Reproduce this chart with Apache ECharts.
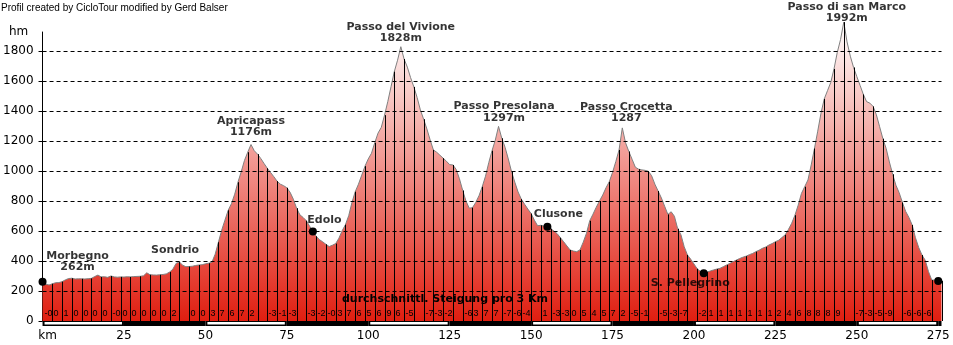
<!DOCTYPE html>
<html>
<head>
<meta charset="utf-8">
<title>Höhenprofil Morbegno – Passo di san Marco</title>
<script src="https://cdn.jsdelivr.net/npm/echarts@6/dist/echarts.min.js"></script>
<style>
  html, body { margin: 0; padding: 0; background: #fff; }
  #chart { width: 953px; height: 345px; }
</style>
</head>
<body>
<div id="chart"></div>
<script>
// Elevation (m) sampled once per kilometre, km 0 .. 276
const profileElev = [
  262, 245, 240, 248, 255, 256, 262, 274, 283, 285,
  280, 281, 281, 280, 282, 284, 296, 306, 294, 295,
  291, 300, 294, 292, 294, 293, 295, 294, 296, 297,
  298, 301, 321, 308, 307, 306, 308, 310, 314, 326,
  345, 384, 394, 372, 362, 363, 365, 370, 373, 375,
  381, 385, 392, 445, 525, 605, 672, 738, 782, 845,
  925, 995, 1070, 1125, 1176, 1135, 1112, 1083, 1050, 1018,
  990, 962, 932, 912, 902, 888, 858, 812, 752, 708,
  690, 668, 632, 597, 565, 542, 528, 511, 496, 505,
  516, 552, 602, 642, 702, 790, 862, 912, 972, 1032,
  1080, 1118, 1188, 1252, 1290, 1372, 1462, 1562, 1662, 1738,
  1828, 1746, 1692, 1622, 1560, 1490, 1407, 1345, 1280, 1207,
  1140, 1125, 1105, 1085, 1065, 1042, 1040, 1010, 948, 870,
  800, 752, 755, 790, 835, 895, 965, 1055, 1135, 1205,
  1297, 1218, 1158, 1080, 995, 925, 860, 812, 778, 746,
  716, 672, 635, 638, 632, 628, 615, 600, 582, 555,
  528, 500, 473, 466, 462, 474, 525, 585, 668, 712,
  758, 800, 840, 888, 928, 990, 1062, 1140, 1287, 1188,
  1130, 1078, 1025, 1012, 1007, 1004, 998, 968, 912, 866,
  820, 765, 710, 728, 698, 615, 575, 495, 440, 412,
  380, 348, 330, 318, 326, 333, 340, 346, 351, 362,
  373, 384, 395, 406, 416, 425, 432, 442, 450, 462,
  472, 484, 493, 506, 516, 528, 538, 556, 574, 610,
  651, 705, 772, 850, 895, 940, 1040, 1150, 1265, 1385,
  1480, 1535, 1590, 1680, 1790, 1875, 1992, 1860, 1765, 1690,
  1629, 1570, 1510, 1462, 1452, 1430, 1375, 1295, 1215, 1150,
  1060, 978, 905, 855, 790, 730, 690, 640, 555, 490,
  440, 405, 330, 273, 273, 267, 268
];

// Average gradient (%) for each 3 km section, "" where none is printed
const gradeLabels = [
  '-0', '0', '1', '0', '0', '0', '0', '-0', '0', '0',
  '0', '0', '0', '2', '', '0', '0', '3', '7', '6',
  '7', '2', '', '-3', '-1', '-3', '', '-3', '-2', '-0',
  '3', '7', '6', '5', '6', '9', '6', '-5', '', '-7',
  '-3', '-2', '', '-6', '3', '7', '7', '-7', '-6', '-4',
  '', '1', '-3', '-3', '0', '5', '4', '5', '7', '2',
  '-5', '-1', '', '-5', '-3', '-7', '', '-2', '1', '1',
  '1', '1', '1', '1', '1', '2', '4', '6', '8', '8',
  '8', '9', '', '-7', '-3', '-5', '-9', '', '-6', '-6',
  '-6', ''
];

const kmTicks = [0, 25, 50, 75, 100, 125, 150, 175, 200, 225, 250, 275];
const elevTicks = [0, 200, 400, 600, 800, 1000, 1200, 1400, 1600, 1800];
const gridElev = [200, 400, 600, 800, 1000, 1200, 1400, 1600, 1800];

// Named places along the route
const placeNames = ['Morbegno', 'Sondrio', 'Apricapass', 'Edolo', 'Passo del Vivione',
  'Passo Presolana', 'Clusone', 'Passo Crocetta', 'S. Pellegrino', 'Passo di san Marco'];
const placeKm = [0, 41, 64, 83, 110, 140, 155, 178, 203, 246];
const placeElevUnit = ['m', null, 'm', null, 'm', 'm', null, '', null, 'm'];
const dotKm = [0, 83, 155, 203, 275];

// Layout of the place labels (pixel offset from the profile point)
const placeLabelOffset = [[35, -20], [-1, -13], [0, -18], [11.5, -11.5], [0, -14],
  [5.5, -14], [11, -13], [4, -15], [-13.5, 9.5], [3, -9.5]];

const kmEnd = profileElev.length - 1;
const AXIS_FONT = '"DejaVu Sans", sans-serif';

const chart = echarts.init(document.getElementById('chart'), null, { renderer: 'canvas' });

const areaGradient = new echarts.graphic.LinearGradient(0, 32, 0, 321, [
  { offset: 0, color: '#fff8f8' },
  { offset: 1, color: '#e01e10' }
], true);

// vertical marker every 3 km plus the finish
const stickKm = profileElev.map((e, i) => i).filter(i => (i > 0 && i % 3 === 0) || i === kmEnd);

// alternating 25 km scale bar segments
const barSegments = [];
for (let s = 0; s < kmEnd; s += 25) {
  barSegments.push([s, Math.min(s + 25, kmEnd), (s / 25) % 2]);
}

const option = {
  animation: false,
  backgroundColor: '#ffffff',
  grid: { left: 42, right: 11.5, top: 32, bottom: 24, containLabel: false },
  xAxis: {
    type: 'value',
    min: 0,
    max: kmEnd,
    axisLine: { show: false },
    axisTick: { show: false },
    splitLine: { show: false },
    axisLabel: {
      customValues: kmTicks,
      margin: 9,
      color: '#000',
      fontFamily: AXIS_FONT,
      fontSize: 12,
      formatter: v => (v === 0 ? '{k|km}' : String(v)),
      rich: { k: { padding: [0, 0, 0, 10], fontFamily: AXIS_FONT, fontSize: 12, color: '#000' } }
    }
  },
  yAxis: {
    type: 'value',
    min: 0,
    max: 1926,
    interval: 200,
    axisLine: { show: true, lineStyle: { color: '#000', width: 1 } },
    axisTick: { show: true, length: 4, customValues: elevTicks, lineStyle: { color: '#000' } },
    splitLine: { show: false },
    axisLabel: {
      customValues: elevTicks,
      margin: 9,
      color: '#000',
      fontFamily: AXIS_FONT,
      fontSize: 12,
      formatter: v => String(v)
    }
  },
  graphic: [
    {
      type: 'text', left: 1, top: 3,
      style: { text: 'Profil created by CicloTour modified by Gerd Balser', fill: '#000',
        font: '10px "Liberation Sans", Arial, sans-serif' }
    },
    {
      type: 'text', left: 9, top: 26,
      style: { text: 'hm', fill: '#000', font: '12px ' + AXIS_FONT }
    },
    {
      type: 'text', x: 445, y: 299.5, z: 20,
      style: { text: 'durchschnittl. Steigung pro 3 Km', fill: '#000',
        font: 'bold 11px ' + AXIS_FONT, align: 'center', verticalAlign: 'middle' }
    }
  ],
  series: [
    {
      name: 'Profil',
      type: 'line',
      data: profileElev.map((e, i) => [i, e]),
      showSymbol: false,
      symbol: 'none',
      clip: false,
      z: 2,
      lineStyle: { color: '#808080', width: 1 },
      areaStyle: { color: areaGradient, opacity: 1 }
    },
    {
      name: 'Abschnitte',
      type: 'custom',
      z: 3,
      silent: true,
      clip: false,
      data: stickKm.map(i => [i, profileElev[i]]),
      renderItem: (params, api) => {
        const top = api.coord([api.value(0), api.value(1)]);
        const base = api.coord([api.value(0), 0]);
        const x = Math.round(top[0]) + 0.5;
        return {
          type: 'line',
          shape: { x1: x, y1: base[1], x2: x, y2: top[1] },
          style: { stroke: '#000', lineWidth: 1 }
        };
      },
      markLine: {
        silent: true,
        symbol: ['none', 'none'],
        label: { show: false },
        lineStyle: { color: '#000', width: 1, type: [4, 3] },
        data: gridElev.map(v => ({ yAxis: v }))
      }
    },
    {
      name: 'Steigung',
      type: 'custom',
      z: 5,
      silent: true,
      data: gradeLabels.map((t, i) => [i * 3, 0]),
      renderItem: (params, api) => {
        const p = api.coord([api.value(0), 0]);
        return {
          type: 'text',
          x: Math.round(p[0]) + 1.5,
          y: p[1] - 7.5,
          style: {
            text: gradeLabels[params.dataIndex],
            fill: '#000',
            font: '9px "Liberation Sans", Arial, sans-serif',
            align: 'left',
            verticalAlign: 'middle'
          }
        };
      }
    },
    {
      name: 'Massstab',
      type: 'custom',
      z: 5,
      silent: true,
      clip: false,
      data: barSegments,
      renderItem: (params, api) => {
        const a = api.coord([api.value(0), 0]);
        const b = api.coord([api.value(1), 0]);
        const children = [{
          type: 'rect',
          shape: { x: a[0], y: a[1], width: b[0] - a[0], height: 5 },
          style: { fill: '#000' }
        }];
        if (api.value(2) === 0) {
          children.push({
            type: 'rect',
            shape: { x: a[0] + 2, y: a[1] + 1, width: b[0] - a[0] - 4, height: 2.5 },
            style: { fill: '#fff' }
          });
        }
        return { type: 'group', children };
      }
    },
    {
      name: 'Orte',
      type: 'scatter',
      z: 6,
      silent: true,
      clip: false,
      symbol: 'circle',
      symbolSize: 8,
      itemStyle: { color: '#000', opacity: 1 },
      data: dotKm.map(k => [k, profileElev[k]])
    },
    {
      name: 'Namen',
      type: 'scatter',
      z: 7,
      silent: true,
      clip: false,
      symbolSize: 1,
      itemStyle: { color: 'rgba(0,0,0,0)' },
      data: placeKm.map((k, i) => {
        const unit = placeElevUnit[i];
        const text = unit === null ? placeNames[i] : placeNames[i] + '\n' + profileElev[k] + unit;
        return {
          value: [k, profileElev[k]],
          label: {
            show: true,
            position: 'inside',
            offset: placeLabelOffset[i],
            formatter: text,
            color: '#000',
            fontFamily: AXIS_FONT,
            fontWeight: 'bold',
            fontSize: 11,
            lineHeight: 11.5,
            align: 'center',
            verticalAlign: 'middle'
          }
        };
      })
    }
  ]
};

chart.setOption(option);
</script>
</body>
</html>
